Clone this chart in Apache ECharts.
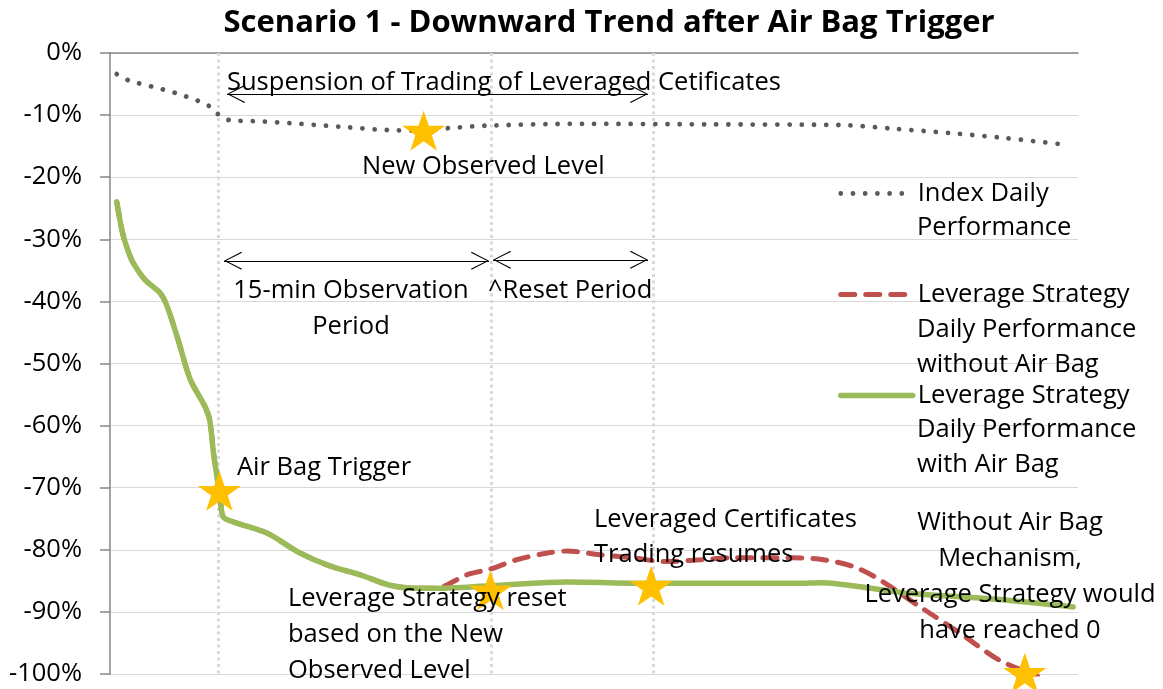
<!DOCTYPE html>
<html lang="en">
<head>
  <meta charset="UTF-8">
  <title>Scenario 1 - Downward Trend after Air Bag Trigger</title>
  <script src="https://cdn.jsdelivr.net/npm/echarts@6/dist/echarts.min.js"></script>
  <style>
    html, body { margin: 0; padding: 0; background: #fff; }
    #chart { width: 1163px; height: 689px; }
  </style>
</head>
<body>
  <div id="chart"></div>
  <script>
    // x = time along the session (arbitrary units 0..100), y = performance in %
    var indexX = [0.7, 1.9, 4.3, 6.7, 9.1, 10.2, 11.2, 12.3, 15.5, 19.6, 24.0, 28.6, 32.2, 35.0, 38.9, 48.9, 61.6, 75.4, 81.0, 86.8, 92.5, 98.3]
    var indexY = [-3.4, -4.4, -5.4, -6.4, -7.7, -8.5, -9.9, -10.8, -11.0, -11.4, -11.9, -12.4, -12.5, -12.1, -11.7, -11.4, -11.5, -11.6, -12.2, -12.9, -13.7, -14.7]

    var noBagX = [0.7, 1.3, 1.9, 2.4, 3.6, 5.2, 5.9, 7.0, 8.3, 9.8, 10.3, 10.7, 11.1, 11.4, 11.7, 12.7, 16.2, 19.6, 22.7, 25.8, 28.9, 32.0, 33.4,
      34.6, 36.9, 39.3, 42.0, 44.9, 47.2, 50.6, 54.0, 57.5, 61.0, 64.4, 70.6, 73.7, 76.8, 79.5, 83.7, 87.8, 91.9, 95.8]
    var noBagY = [-24.0, -29.0, -32.0, -33.8, -36.5, -38.7, -40.8, -46.0, -52.6, -56.9, -59.1, -64.5, -68.7, -72.0, -74.7, -75.5, -77.3, -80.5, -82.6, -84.0, -85.7, -86.2, -86.2,
      -85.8, -84.0, -83.1, -81.6, -80.6, -80.2, -80.8, -81.3, -81.9, -81.6, -81.3, -81.3, -81.6, -82.7, -84.8, -89.2, -93.4, -97.8, -100.3]

    var withBagX = [0.7, 1.3, 1.9, 2.4, 3.6, 5.2, 5.9, 7.0, 8.3, 9.8, 10.3, 10.7, 11.1, 11.4, 11.7, 12.7, 16.2, 19.6, 22.7, 25.8, 28.9, 32.0, 33.4,
      39.3, 47.2, 55.8, 71.3, 73.3, 81.9, 91.9, 99.5]
    var withBagY = [-24.0, -29.0, -32.0, -33.8, -36.5, -38.7, -40.8, -46.0, -52.6, -56.9, -59.1, -64.5, -68.7, -72.0, -74.7, -75.5, -77.3, -80.5, -82.6, -84.0, -85.7, -86.2, -86.2,
      -85.8, -85.2, -85.4, -85.4, -85.3, -86.9, -88.0, -89.2]

    var starX = [11.3, 32.4, 39.3, 55.9, 94.5]
    var starY = [-70.5, -12.5, -86.5, -85.8, -99.8]

    // trigger, reset, trading resumes
    var eventX = [11.16, 39.36, 56.1]

    var seriesNames = ['Index Daily Performance', 'Leverage Strategy Daily Performance without Air Bag', 'Leverage Strategy Daily Performance with Air Bag']
    var legendFirstLine = ['Index Daily', 'Leverage Strategy', 'Leverage Strategy']

    var FONT = '"Open Sans", "Noto Sans", sans-serif'
    var FS = 25.5

    function pairs(xs, ys) {
      return xs.map(function (x, i) { return [x, ys[i]] })
    }

    var starPath = 'path://M50,0L61.8,35.1L98.9,35.1L68.9,56.9L80.3,92.1L50,70.4L19.7,92.1L31.1,56.9L1.1,35.1L38.2,35.1Z'
    var chevron = 'path://M10,0L20,19.3L18.9,20L10,2.4L1.1,20L0,19.3Z'

    function arrow(x1, x2, y) {
      return [{ coord: [x1, y] }, { coord: [x2, y] }]
    }

    function txt(x, y, text, align, lh) {
      return {
        type: 'text', x: x, y: y, z: 100, silent: true,
        style: {
          text: text, fill: '#000', fontSize: FS, fontFamily: FONT,
          align: align || 'left', verticalAlign: 'middle', lineHeight: lh || 36
        }
      }
    }

    var chart = echarts.init(document.getElementById('chart'))

    var option = {
      animation: false,
      backgroundColor: '#fff',
      grid: { left: 110, right: 85, top: 53, bottom: 15 },
      xAxis: {
        type: 'value', min: 0, max: 100, position: 'top',
        axisLine: { show: true, lineStyle: { color: '#868686', width: 1.5 } },
        axisTick: { show: false }, axisLabel: { show: false }, splitLine: { show: false }
      },
      yAxis: {
        type: 'value', min: -100, max: 0, interval: 10,
        axisLine: { show: true, lineStyle: { color: '#868686', width: 1.5 } },
        axisTick: { show: true, length: 10, lineStyle: { color: '#868686', width: 1.5 } },
        axisLabel: { formatter: '{value}%', fontSize: FS, fontFamily: FONT, color: '#000', margin: 28 },
        splitLine: { show: true, lineStyle: { color: '#d9d9d9', width: 1 } }
      },
      legend: {
        data: seriesNames,
        orient: 'vertical', left: 838, top: 176, padding: 0,
        itemWidth: 72, itemHeight: 14, itemGap: 66,
        selectedMode: false,
        formatter: function (name) { return legendFirstLine[seriesNames.indexOf(name)] },
        textStyle: { fontSize: FS, fontFamily: FONT, color: '#000', lineHeight: 35 },
        lineStyle: { width: 'inherit' },
        itemStyle: { opacity: 0 }
      },
      series: [
        {
          name: seriesNames[0], type: 'line', data: pairs(indexX, indexY),
          symbol: 'none', smooth: 0.3, z: 2,
          lineStyle: { color: '#595959', width: 4.8, type: [0.01, 12.2], cap: 'round' },
          itemStyle: { color: '#595959' },
          markLine: {
            silent: true, symbol: 'none', z: 1,
            label: { show: false },
            lineStyle: { color: '#d9d9d9', width: 3, type: [3, 3.5] },
            data: eventX.map(function (x) { return [{ coord: [x, 0] }, { coord: [x, -100] }] })
          }
        },
        {
          name: seriesNames[1], type: 'line', data: pairs(noBagX, noBagY),
          symbol: 'none', smooth: 0.3, z: 3,
          lineStyle: { color: '#C0504D', width: 5, type: [14, 11], cap: 'round' },
          itemStyle: { color: '#C0504D' },
          markLine: {
            silent: true, z: 5,
            symbol: [chevron, chevron], symbolSize: [18, 18],
            symbolOffset: [[0, '50%'], [0, '50%']],
            label: { show: false },
            lineStyle: { color: '#000', width: 1, type: 'solid' },
            data: [
              arrow(12.09, 55.58, -6.6),
              arrow(11.78, 39.15, -33.46),
              arrow(39.57, 55.58, -33.3)
            ]
          }
        },
        {
          name: seriesNames[2], type: 'line', data: pairs(withBagX, withBagY),
          symbol: 'none', smooth: 0.3, z: 4,
          lineStyle: { color: '#9BBB59', width: 5.5, cap: 'round' },
          itemStyle: { color: '#9BBB59' }
        },
        {
          name: 'events', type: 'scatter', data: pairs(starX, starY),
          symbol: starPath, symbolSize: [43, 40], z: 6, silent: true,
          itemStyle: { color: '#FFC000', opacity: 1 }
        }
      ],
      graphic: [
        {
          type: 'text', x: 609, y: 23, z: 100, silent: true,
          style: {
            text: 'Scenario 1 - Downward Trend after Air Bag Trigger', fill: '#000',
            fontSize: 31, fontWeight: 'bold', fontFamily: FONT, align: 'center', verticalAlign: 'middle'
          }
        },
        txt(227, 83, 'Suspension of Trading of Leveraged Cetificates'),
        txt(362, 167, 'New Observed Level'),
        txt(351, 309, '15-min Observation\nPeriod', 'center'),
        txt(488, 291, '^Reset Period'),
        txt(237, 468, 'Air Bag Trigger'),
        txt(288, 635, 'Leverage Strategy reset\nbased on the New\nObserved Level'),
        txt(594, 537.5, 'Leveraged Certificates\nTrading resumes', 'left', 35),
        txt(1010, 577, 'Without Air Bag\nMechanism,\nLeverage Strategy would\nhave reached 0', 'center'),
        txt(917, 228, 'Performance'),
        txt(917, 347.5, 'Daily Performance\nwithout Air Bag', 'left', 35),
        txt(917, 447.5, 'Daily Performance\nwith Air Bag', 'left', 35)
      ]
    }

    chart.setOption(option)
  </script>
</body>
</html>
